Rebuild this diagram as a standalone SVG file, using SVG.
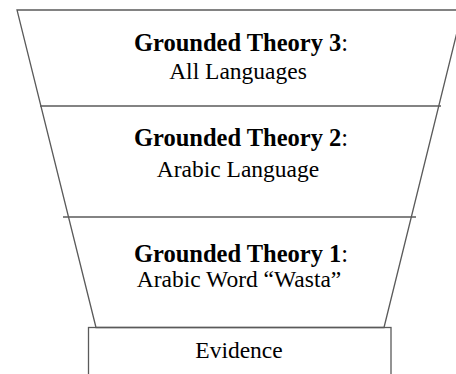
<svg xmlns="http://www.w3.org/2000/svg" width="456" height="374" viewBox="0 0 456 374">
<style>
.ln{fill:none;stroke:#5a5a5a;stroke-width:1.3}
.b{font-family:"Liberation Serif","Times New Roman",serif;font-weight:bold;font-size:24.5px;fill:#000}
.r{font-family:"Liberation Serif","Times New Roman",serif;font-size:23.5px;fill:#000}
.n{font-weight:normal}
</style>
<rect width="456" height="374" fill="#fff"/>
<g id="funnel">
<polygon class="ln" points="17,10 462.5,10 384,327.5 96,327.5" fill="#fff"/>
<line class="ln" x1="40" y1="106" x2="441" y2="106"/>
<line class="ln" x1="63" y1="217" x2="416" y2="217"/>
</g>
<g id="tier3">
<text class="b" x="241" y="51" text-anchor="middle">Grounded Theory 3<tspan class="n">:</tspan></text>
<text class="r" x="238" y="79" text-anchor="middle">All Languages</text>
</g>
<g id="tier2">
<text class="b" x="241" y="146" text-anchor="middle">Grounded Theory 2<tspan class="n">:</tspan></text>
<text class="r" x="238" y="177" text-anchor="middle">Arabic Language</text>
</g>
<g id="tier1">
<text class="b" x="241" y="262" text-anchor="middle">Grounded Theory 1<tspan class="n">:</tspan></text>
<text class="r" x="239" y="287" text-anchor="middle">Arabic Word “Wasta”</text>
</g>
<g id="evidence">
<rect class="ln" x="88.5" y="327.5" width="302.5" height="60" fill="#fff"/>
<text class="r" x="239" y="358" text-anchor="middle">Evidence</text>
</g>
</svg>
